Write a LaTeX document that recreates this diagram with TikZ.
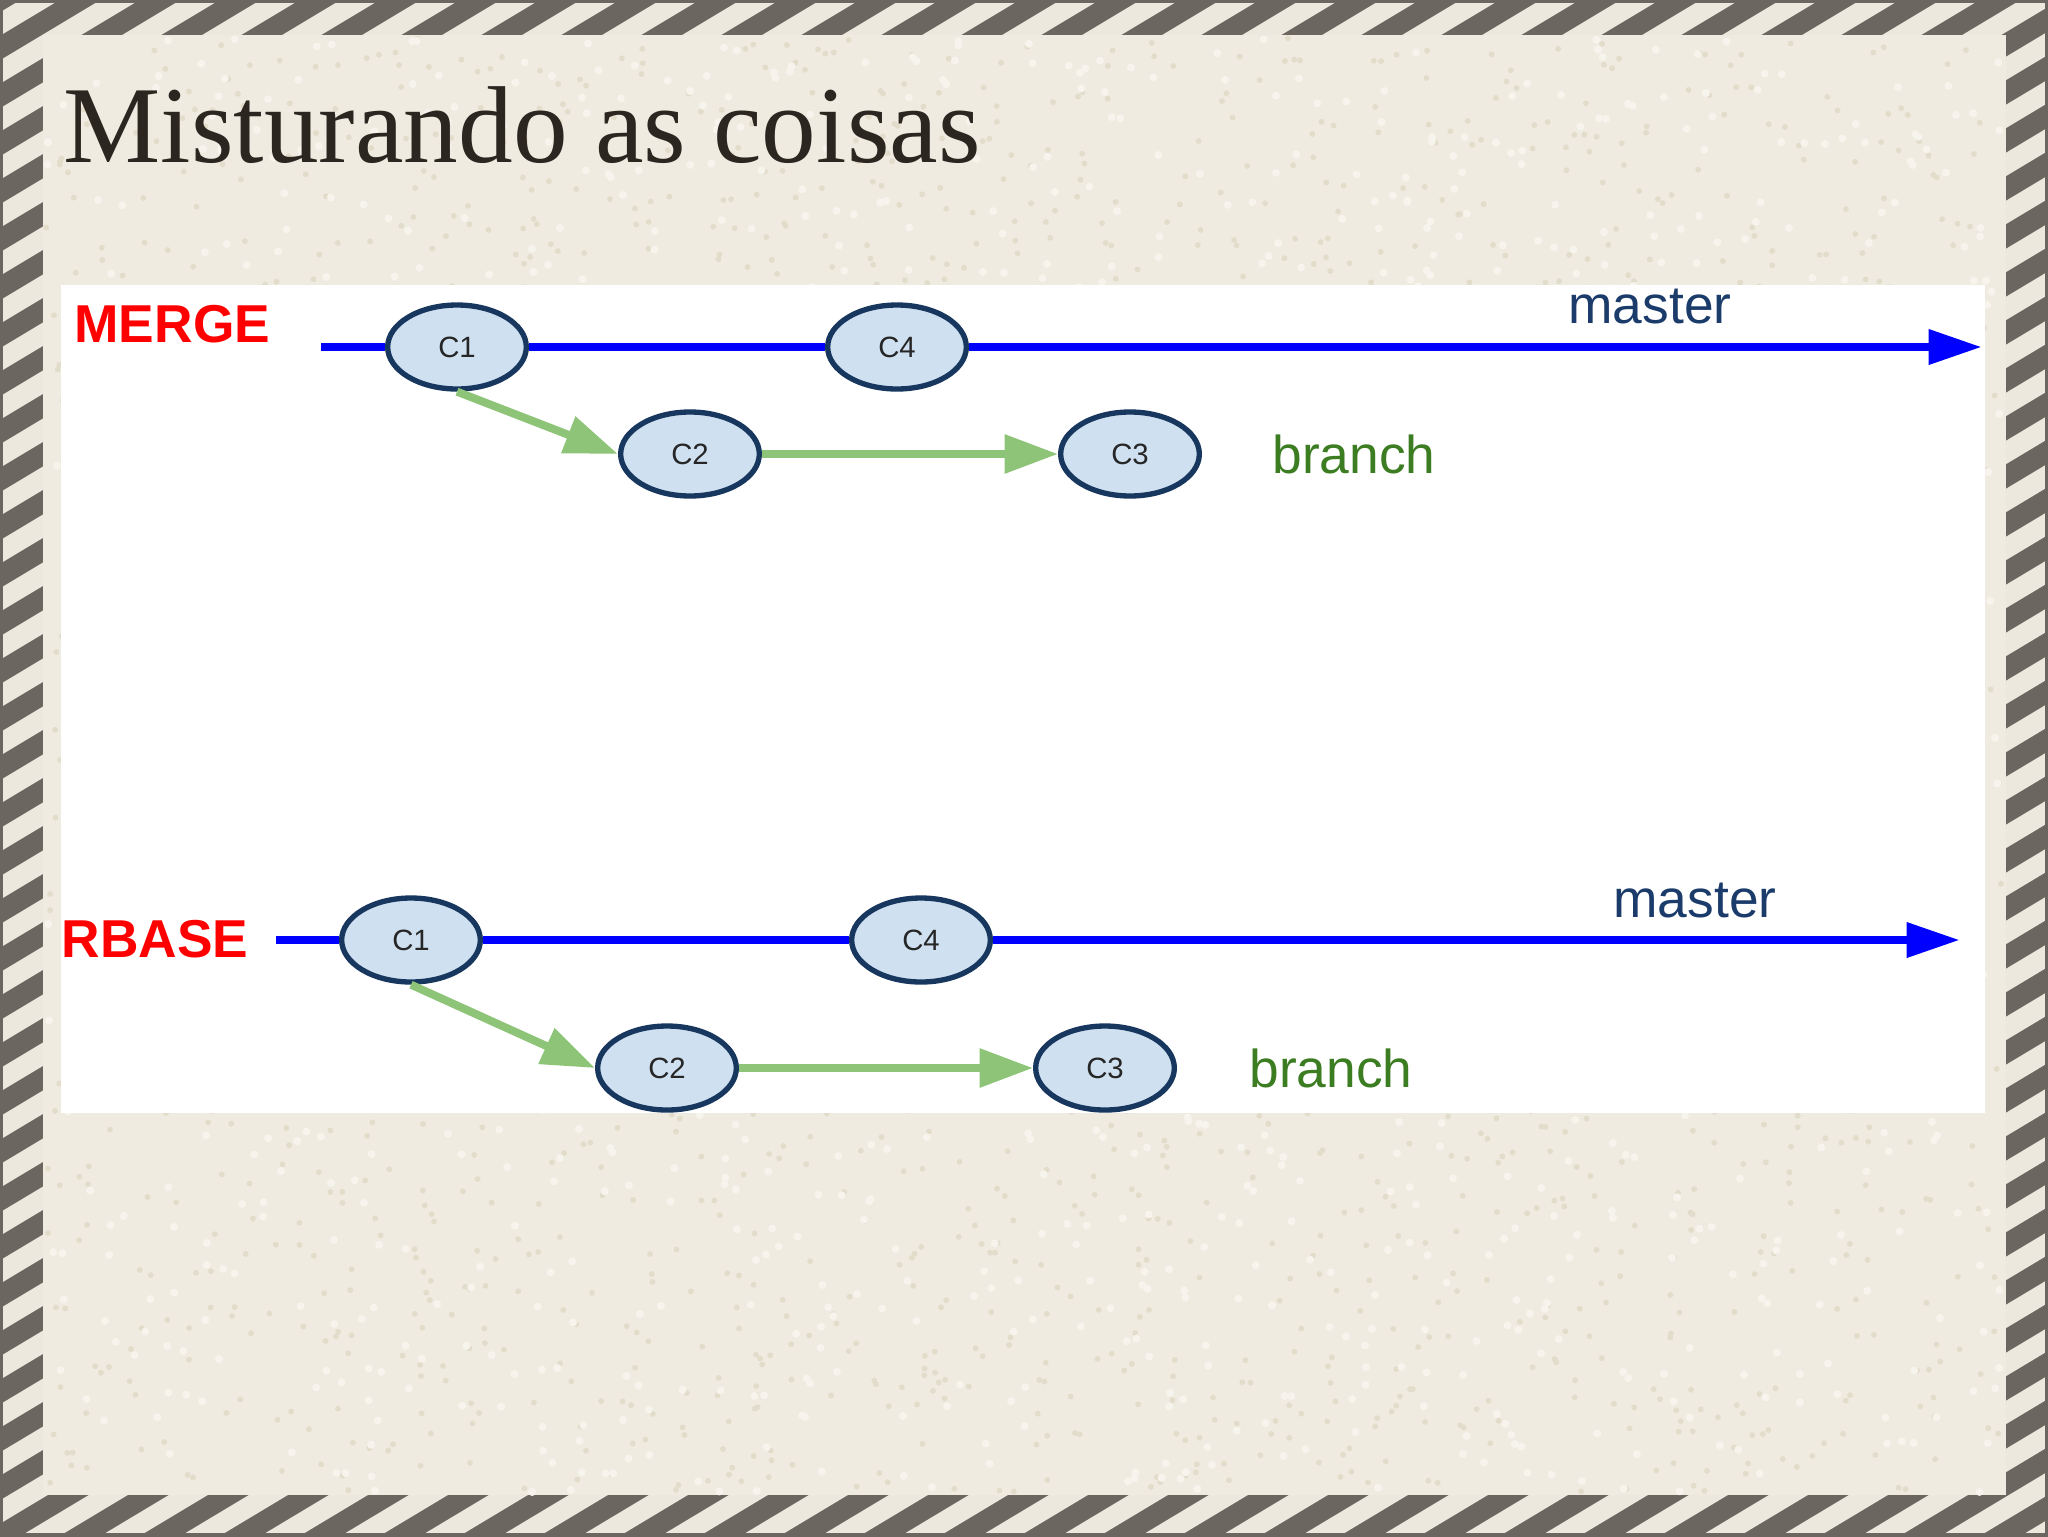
\documentclass[tikz,border=0pt]{standalone}
\usepackage{fontspec}
\setmainfont{Liberation Serif}
\newfontfamily\arialf{Liberation Sans}
\usetikzlibrary{shapes.geometric,arrows.meta}
\definecolor{stripedark}{HTML}{6B665F}
\definecolor{stripelight}{HTML}{ECE8DD}
\definecolor{cream}{HTML}{EFEBE0}
\definecolor{speckdark}{HTML}{E2DCCB}
\definecolor{specklight}{HTML}{F6F4EC}
\definecolor{titlecol}{HTML}{2B2620}
\definecolor{nodefill}{HTML}{CFE0F1}
\definecolor{nodeedge}{HTML}{17375E}
\definecolor{masterblue}{HTML}{0000FF}
\definecolor{branchgreen}{HTML}{8DC478}
\definecolor{labelnavy}{HTML}{1B3C6B}
\definecolor{labelgreen}{HTML}{3C7D22}
\definecolor{labelred}{HTML}{FF0000}
\begin{document}
\begin{tikzpicture}[x=0.375pt,y=-0.375pt,
  commit/.style={ellipse,draw=nodeedge,fill=nodefill,line width=2pt,
    minimum width=52pt,minimum height=31.5pt,inner sep=0pt,
    font=\arialf\fontsize{11}{11}\selectfont,text=black!85},
  mline/.style={draw=masterblue,line width=3.3pt},
  mtip/.style={-{Triangle[length=20pt,width=12.5pt]}},
  bline/.style={draw=branchgreen,line width=3pt,-{Triangle[length=20pt,width=14pt]}},
  kind/.style={font=\arialf\bfseries\fontsize{20}{20}\selectfont,text=labelred,inner sep=0pt,anchor=west},
  mlabel/.style={font=\arialf\fontsize{20}{20}\selectfont,text=labelnavy,inner sep=0pt},
  blabel/.style={font=\arialf\fontsize{20}{20}\selectfont,text=labelgreen,inner sep=0pt}]
\useasboundingbox (0,0) rectangle (2048,1536);
% striped frame
\begin{scope}
\clip (0,0) rectangle (2048,1536);
\fill[stripelight] (0,0) rectangle (2048,1536);
\foreach \i in {-2,...,60}
  \draw[stripedark,line width=7.8pt] ({\i*80-3000},1800) -- ({\i*80+3000},-1800);
\draw[stripedark,line width=2pt] (0,0) rectangle (2048,1536);
\end{scope}
\fill[cream] (43,35) rectangle (2006,1495);
% paper texture
\pgfmathsetseed{7}
\foreach \k in {1,...,2200}{
  \pgfmathsetmacro\xx{46+rnd*1956}
  \pgfmathsetmacro\yy{38+rnd*1454}
  \fill[speckdark] (\xx,\yy) circle (1.1pt);
}
\foreach \k in {1,...,1500}{
  \pgfmathsetmacro\xx{46+rnd*1956}
  \pgfmathsetmacro\yy{38+rnd*1454}
  \fill[specklight] (\xx,\yy) circle (1.5pt);
}
% title
\node[anchor=base west,inner sep=0pt,text=titlecol,font=\fontsize{41}{41}\selectfont] (title) at (63,162) {Misturando as coisas};
% white panel
\fill[white] (61,285) rectangle (1985,1113);
% ---- MERGE diagram
\node[kind] (merge) at (74,324) {MERGE};
\coordinate (ma) at (321,347);
\coordinate (mb) at (1982,347);
\node[commit] (a1) at (457,347) {C1};
\node[commit] (a4) at (897,347) {C4};
\node[commit] (a2) at (690,454) {C2};
\node[commit] (a3) at (1130,454) {C3};
\node[mlabel] (am) at (1650,307) {master};
\node[blabel] (ab) at (1354,454) {branch};
% ---- RBASE diagram
\node[kind] (rbase) at (61,939) {RBASE};
\coordinate (ra) at (276,940);
\coordinate (rb) at (1960,940);
\node[commit] (b1) at (411,940) {C1};
\node[commit] (b4) at (921,940) {C4};
\node[commit] (b2) at (667,1068) {C2};
\node[commit] (b3) at (1105,1068) {C3};
\node[mlabel] (bm) at (1695,901) {master};
\node[blabel] (bb) at (1331,1068) {branch};
% connectors
\draw[mline] (ra) -- (b1);
\draw[mline] (b1) -- (b4);
\draw[mline,mtip] (b4) -- (rb);
\draw[bline] (b1.south) -- (b2.west);
\draw[bline] (b2) -- (b3);
\draw[mline] (ma) -- (a1);
\draw[mline] (a1) -- (a4);
\draw[mline,mtip] (a4) -- (mb);
\draw[bline] (a1.south) -- (a2.west);
\draw[bline] (a2) -- (a3);
\end{tikzpicture}
\end{document}
